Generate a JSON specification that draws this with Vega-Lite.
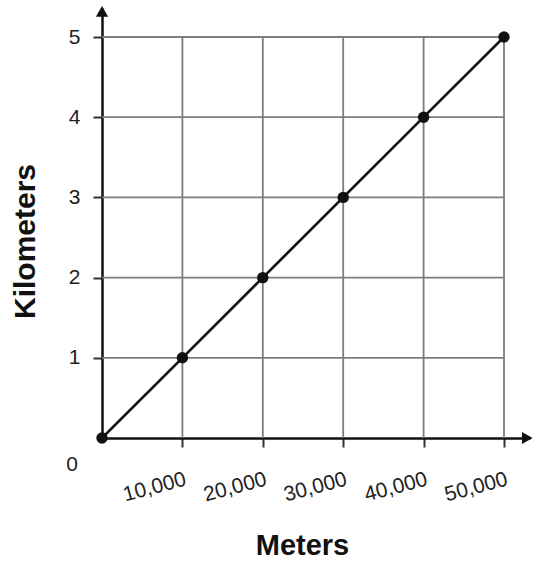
{
  "$schema": "https://vega.github.io/schema/vega-lite/v6.json",
  "width": 428,
  "height": 430,
  "autosize": "none",
  "padding": {"left": 102, "top": 8, "right": 10, "bottom": 127},
  "background": "white",
  "config": {"view": {"stroke": null}, "font": "Liberation Sans"},
  "datasets": {
    "pts": [
      {"x": 0, "y": 0},
      {"x": 10000, "y": 1},
      {"x": 20000, "y": 2},
      {"x": 30000, "y": 3},
      {"x": 40000, "y": 4},
      {"x": 50000, "y": 5}
    ],
    "vgrid": [
      {"x": 10000, "y": 0, "y2": 5},
      {"x": 20000, "y": 0, "y2": 5},
      {"x": 30000, "y": 0, "y2": 5},
      {"x": 40000, "y": 0, "y2": 5},
      {"x": 50000, "y": 0, "y2": 5}
    ],
    "hgrid": [
      {"y": 1, "x": 0, "x2": 50000},
      {"y": 2, "x": 0, "x2": 50000},
      {"y": 3, "x": 0, "x2": 50000},
      {"y": 4, "x": 0, "x2": 50000},
      {"y": 5, "x": 0, "x2": 50000}
    ]
  },
  "encoding": {
    "x": {
      "field": "x", "type": "quantitative",
      "scale": {"domain": [0, 53234], "nice": false},
      "axis": {
        "values": [10000, 20000, 30000, 40000, 50000],
        "format": ",d",
        "grid": false,
        "domainColor": "#111",
        "domainWidth": 2.5,
        "tickColor": "#333",
        "tickWidth": 2,
        "tickSize": 9,
        "labelAngle": -15,
        "labelAlign": "right",
        "labelBaseline": "top",
        "labelPadding": 21,
        "labelDx": 10,
        "labelFontSize": 21,
        "labelColor": "#222",
        "title": "Meters",
        "titleFontSize": 29,
        "titleFontWeight": "bold",
        "titleColor": "#111",
        "titleX": 200,
        "titleY": 107,
        "titleBaseline": "middle",
        "titleAlign": "center"
      }
    },
    "y": {
      "field": "y", "type": "quantitative",
      "scale": {"domain": [0, 5.3616], "nice": false},
      "axis": {
        "values": [1, 2, 3, 4, 5],
        "format": "d",
        "grid": false,
        "domainColor": "#111",
        "domainWidth": 2.5,
        "tickColor": "#333",
        "tickWidth": 2,
        "tickSize": 9,
        "labelPadding": 13,
        "labelFontSize": 21,
        "labelColor": "#222",
        "title": "Kilometers",
        "titleFontSize": 30,
        "titleFontWeight": "bold",
        "titleColor": "#111",
        "titleAngle": -90,
        "titleX": -77,
        "titleY": 233,
        "titleBaseline": "middle",
        "titleAlign": "center"
      }
    }
  },
  "layer": [
    {
      "data": {"name": "vgrid"},
      "mark": {"type": "rule", "color": "#7d7d7d", "strokeWidth": 1.8},
      "encoding": {"y2": {"field": "y2"}}
    },
    {
      "data": {"name": "hgrid"},
      "mark": {"type": "rule", "color": "#7d7d7d", "strokeWidth": 1.8},
      "encoding": {"x2": {"field": "x2"}}
    },
    {
      "data": {"name": "pts"},
      "mark": {"type": "line", "color": "#111", "strokeWidth": 2.6},
      "encoding": {}
    },
    {
      "data": {"name": "pts"},
      "mark": {"type": "point", "filled": true, "color": "#111", "size": 130, "opacity": 1}
    },
    {
      "data": {"values": [{"x": 0, "y": 5.32}]},
      "mark": {"type": "point", "shape": "triangle-up", "filled": true, "color": "#111", "size": 150, "opacity": 1}
    },
    {
      "data": {"values": [{"x": 52900, "y": 0}]},
      "mark": {"type": "point", "shape": "triangle-right", "filled": true, "color": "#111", "size": 150, "opacity": 1}
    },
    {
      "data": {"values": [{"x": 0, "y": 0, "t": "0"}]},
      "mark": {"type": "text", "fontSize": 21, "color": "#222", "dx": -30, "dy": 27},
      "encoding": {"text": {"field": "t"}}
    }
  ]
}
